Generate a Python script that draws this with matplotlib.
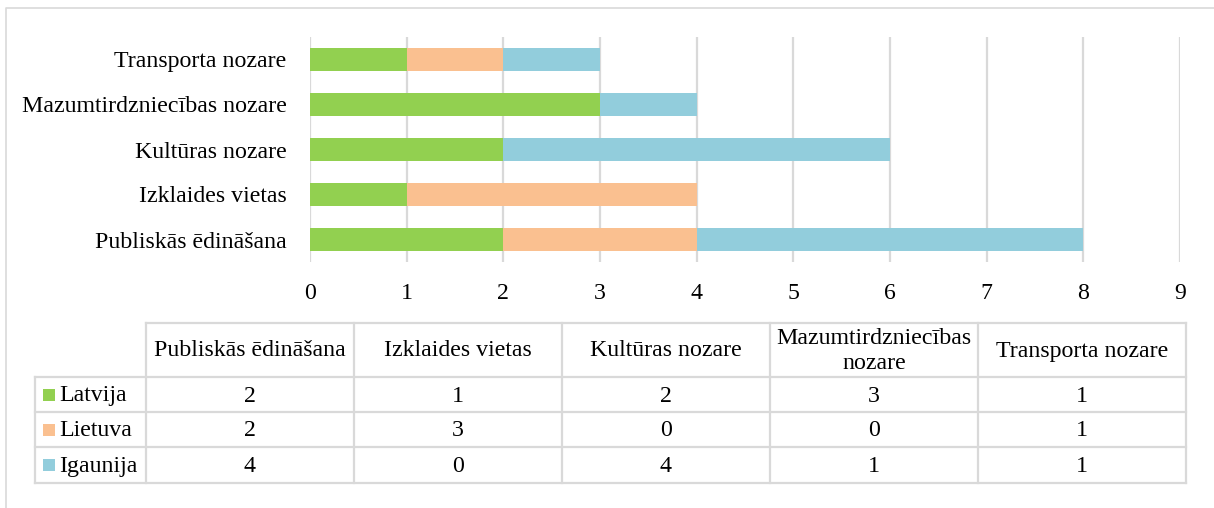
import matplotlib.pyplot as plt
import numpy as np

plt.rcParams['font.family'] = ['Liberation Serif', 'DejaVu Serif']

categories = ['Publiskās ēdināšana', 'Izklaides vietas', 'Kultūras nozare',
              'Mazumtirdzniecības nozare', 'Transporta nozare']
header_labels = ['Publiskās ēdināšana', 'Izklaides vietas', 'Kultūras nozare',
                 'Mazumtirdzniecības\nnozare', 'Transporta nozare']
countries = ['Latvija', 'Lietuva', 'Igaunija']
latvija = [2, 1, 2, 3, 1]
lietuva = [2, 3, 0, 0, 1]
igaunija = [4, 0, 4, 1, 1]
series = [latvija, lietuva, igaunija]
colors = ['#92D050', '#FAC090', '#92CDDC']
grid_col = '#D9D9D9'
fs = 17.2

W, H = 1214, 508
fig = plt.figure(figsize=(W / 100, H / 100), dpi=100)

# background axes in pixel coordinates for frame + table
bg = fig.add_axes([0, 0, 1, 1])
bg.set_xlim(0, W)
bg.set_ylim(H, 0)
bg.axis('off')
bg.plot([6, 6, W + 5], [H + 5, 8, 8], color=grid_col, lw=1.2)

# bar chart
ax = fig.add_axes([310 / W, 1 - 262 / H, 870 / W, 225 / H])
y = np.arange(len(categories))
left = np.zeros(len(categories))
for vals, c, name in zip(series, colors, countries):
    ax.barh(y, vals, left=left, height=0.53, color=c, label=name, zorder=3)
    left += np.array(vals)
ax.set_xlim(0, 9)
ax.set_ylim(-0.5, len(categories) - 0.5)
ax.set_xticks(range(0, 10))
ax.set_yticks(y)
ax.set_yticklabels(categories)
ax.tick_params(axis='both', length=0, labelsize=fs)
ax.tick_params(axis='x', pad=15)
ax.tick_params(axis='y', pad=17)
ax.grid(axis='x', color=grid_col, lw=1.6, zorder=0)
for s in ax.spines.values():
    s.set_visible(False)

# data table
col_edges = [146, 354, 562, 770, 978, 1186]
row_edges = [323, 377, 412, 447, 483]
lab_left = 35
lc = dict(color=grid_col, lw=1.6, zorder=2)
bg.plot([col_edges[0], col_edges[-1]], [row_edges[0]] * 2, **lc)
for r in row_edges[1:]:
    bg.plot([lab_left, col_edges[-1]], [r, r], **lc)
bg.plot([lab_left, lab_left], [row_edges[1], row_edges[-1]], **lc)
for cx in col_edges:
    bg.plot([cx, cx], [row_edges[0], row_edges[-1]], **lc)

for j, lab in enumerate(header_labels):
    cx = (col_edges[j] + col_edges[j + 1]) / 2
    cy = (row_edges[0] + row_edges[1]) / 2
    bg.text(cx, cy + 1, lab, ha='center', va='center', fontsize=fs, linespacing=1.3)

for i, (name, vals, c) in enumerate(zip(countries, series, colors)):
    cy = (row_edges[i + 1] + row_edges[i + 2]) / 2
    bg.add_patch(plt.Rectangle((43, cy - 6), 12, 12, color=c, lw=0))
    bg.text(59, cy + 1.5, name, ha='left', va='center', fontsize=fs)
    for j, v in enumerate(vals):
        cx = (col_edges[j] + col_edges[j + 1]) / 2
        bg.text(cx, cy + 1.5, str(v), ha='center', va='center', fontsize=fs)

fig.savefig('out.png', dpi=100)
